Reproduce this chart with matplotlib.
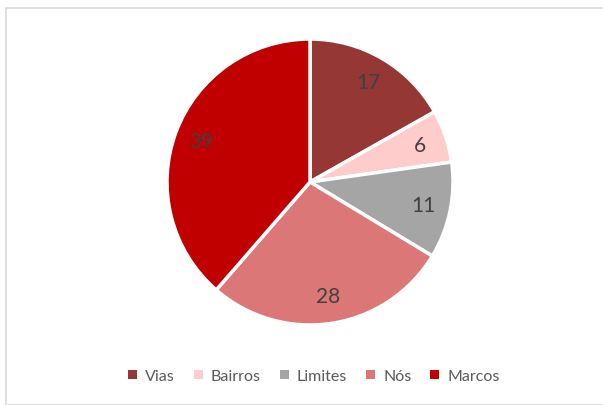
import matplotlib.pyplot as plt
from matplotlib.patches import Rectangle, Patch

plt.rcParams['font.family'] = ['Lato', 'DejaVu Sans']

labels = ["Vias", "Bairros", "Limites", "Nós", "Marcos"]
values = [17, 6, 11, 28, 39]
colors = ["#953735", "#FFCCCC", "#A5A5A5", "#DC7777", "#C00000"]

fig = plt.figure(figsize=(6.03, 4.06), dpi=100)

# light grey chart border (Excel-like frame)
fig.patches.append(Rectangle((6 / 603, 0), 1.2, 1 - 9 / 406, transform=fig.transFigure,
                             fill=False, edgecolor="#D9D9D9", linewidth=1.2))

ax = fig.add_axes([(310 - 143) / 603, (406 - 326) / 406, 286 / 603, 286 / 406])
wedges, texts, autotexts = ax.pie(values, colors=colors, startangle=90, counterclock=False,
                                  autopct=lambda p: "%d" % round(p * sum(values) / 100),
                                  pctdistance=0.81,
                                  wedgeprops=dict(edgecolor="white", linewidth=2.5))
for t in autotexts:
    t.set_fontsize(15)
    t.set_color("#404040")
ax.set_xlim(-1, 1)
ax.set_ylim(-1, 1)
ax.set_aspect("equal")

handles = [Patch(facecolor=c, edgecolor="none") for c in colors]
fig.legend(handles, labels, loc="center", bbox_to_anchor=(314 / 603, 1 - 377 / 406), ncol=5,
           frameon=False, fontsize=11.5, handlelength=0.55, handleheight=0.55, handletextpad=0.5,
           columnspacing=1.2, labelcolor="#595959")

plt.savefig("out.png", dpi=100)
